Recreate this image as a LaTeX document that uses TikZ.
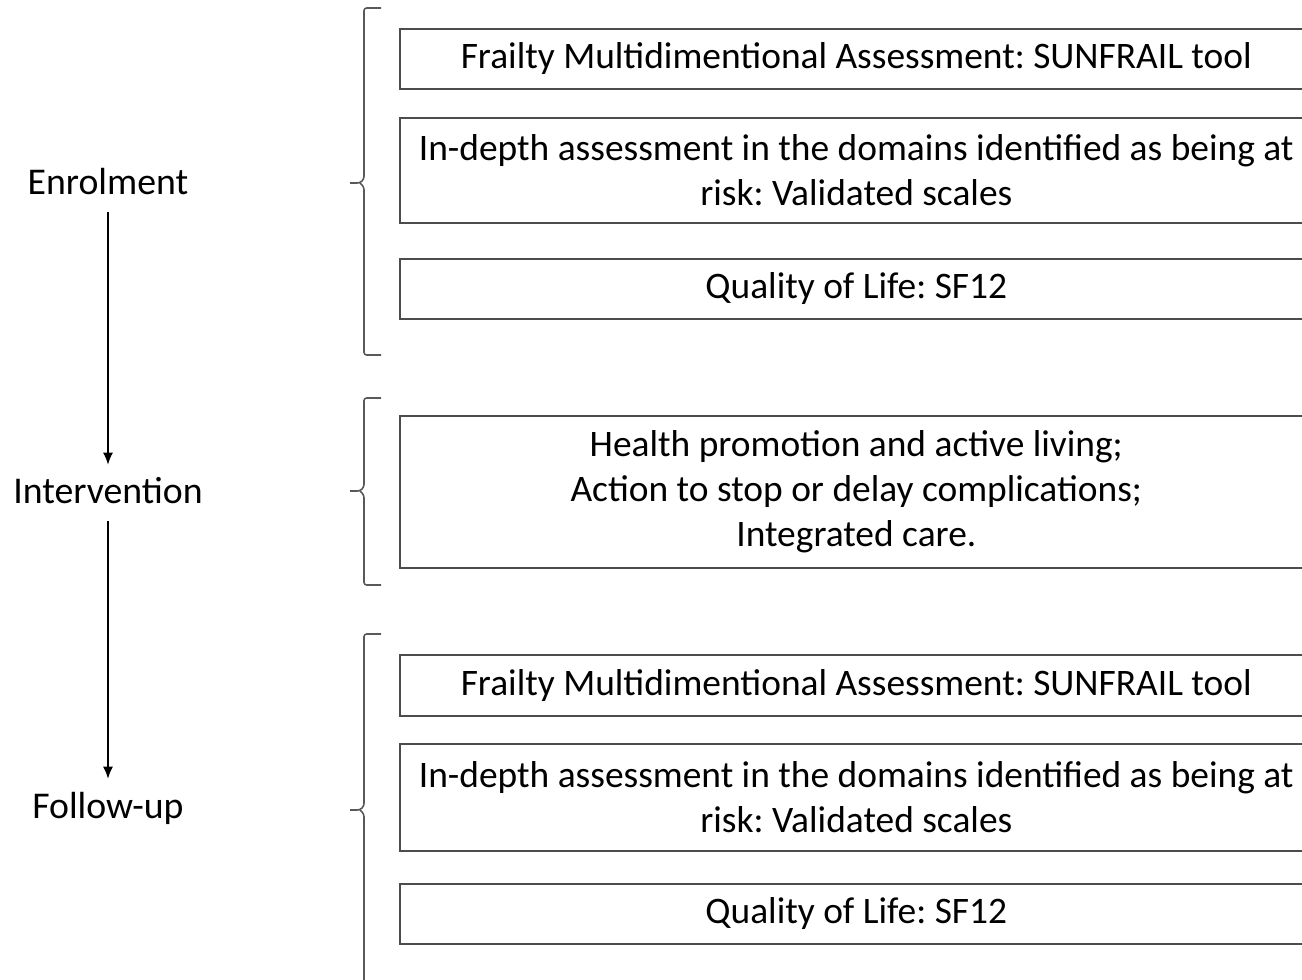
\documentclass[tikz,border=0pt]{standalone}
\usepackage{fontspec}
\setmainfont{Carlito}
\usetikzlibrary{arrows.meta}
\frenchspacing

\begin{document}
\begin{tikzpicture}[x=0.02cm, y=-0.02cm,
                    stage/.style={font=\fontsize{21.5}{25.6}\selectfont},
                    item/.style={draw=black!70, line width=1pt, anchor=west, minimum width=18.26cm,
                                 align=center, inner sep=0pt, font=\fontsize{21.3}{25.6}\selectfont},
                    grp/.style={draw=black!65, line width=0.9pt, rounded corners=1.5pt},
                    flow/.style={-{Latex[length=2.4mm,width=2mm]}, line width=0.7pt,
                                 shorten <=0.22cm, shorten >=0.14cm}]
  \useasboundingbox (0,0) rectangle (1302,980);
  \node[stage] (enrol) at (108,182) {Enrolment};
  \node[stage] (interv) at (108,491) {Intervention};
  \node[stage] (follow) at (108,808) {Follow-up};
  \draw[flow] (enrol) -- (interv);
  \draw[flow] (interv) -- (follow);

  \node[item, minimum height=1.2cm] (e1) at (399,59) {Frailty Multidimentional Assessment: SUNFRAIL tool};
  \node[item, minimum height=2.1cm] (e2) at (399,170.5) {In-depth assessment in the domains identified as being at\\risk: Validated scales};
  \node[item, minimum height=1.2cm] (e3) at (399,289) {Quality of Life: SF12};
  \node[item, minimum height=3.04cm] (i1) at (399,492) {Health promotion and active living;\\Action to stop or delay complications;\\Integrated care.};
  \node[item, minimum height=1.22cm] (f1) at (399,685.5) {Frailty Multidimentional Assessment: SUNFRAIL tool};
  \node[item, minimum height=2.14cm] (f2) at (399,797.5) {In-depth assessment in the domains identified as being at\\risk: Validated scales};
  \node[item, minimum height=1.2cm] (f3) at (399,914) {Quality of Life: SF12};

  % braces
  \draw[grp] (381,8) -- (364,8) -- (364,179) -- (360,183) -- (350,183)
             (360,183) -- (364,187) -- (364,355) -- (381,355);
  \draw[grp] (381,398) -- (364,398) -- (364,487) -- (360,491) -- (350,491)
             (360,491) -- (364,495) -- (364,585) -- (381,585);
  \draw[grp] (381,634) -- (364,634) -- (364,806) -- (360,810) -- (350,810)
             (360,810) -- (364,814) -- (364,1000);
\end{tikzpicture}
\end{document}
